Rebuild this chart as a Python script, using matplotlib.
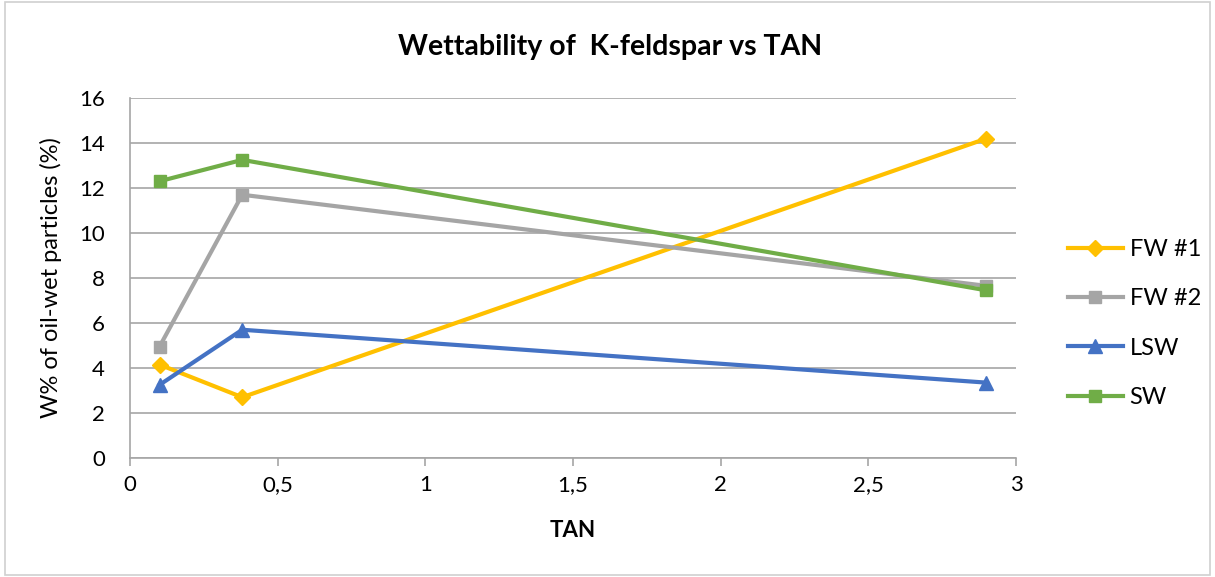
import matplotlib.pyplot as plt
from matplotlib.patches import Rectangle

plt.rcParams['font.family'] = ['Lato', 'DejaVu Sans']

tan = [0.1, 0.38, 2.9]
fw1 = [4.15, 2.7, 14.2]
fw2 = [4.95, 11.7, 7.65]
lsw = [3.25, 5.7, 3.35]
sw = [12.3, 13.25, 7.45]

x_ticks = [0, 0.5, 1, 1.5, 2, 2.5, 3]
x_labels = ['0', '0,5', '1', '1,5', '2', '2,5', '3']
y_ticks = [0, 2, 4, 6, 8, 10, 12, 14, 16]

fig = plt.figure(figsize=(12.15, 5.77), dpi=100)
ax = fig.add_axes([130 / 1215, 1 - 458 / 577, 886 / 1215, 360 / 577])

series = [
    ('FW #1', fw1, '#FFC000', 'D', 8),
    ('FW #2', fw2, '#A5A5A5', 's', 9),
    ('LSW', lsw, '#4472C4', '^', 10),
    ('SW', sw, '#70AD47', 's', 9),
]
for name, vals, color, marker, ms in series:
    ax.plot(tan, vals, color=color, lw=3, marker=marker, markersize=ms,
            label=name, clip_on=False, zorder=3)

ax.set_xlim(0, 3)
ax.set_ylim(0, 16)
ax.set_xticks(x_ticks)
ax.set_xticklabels(x_labels)
ax.set_yticks(y_ticks)
ax.grid(axis='y', color='#A6A6A6', lw=1.2)
ax.set_axisbelow(True)
for s in ['top', 'right']:
    ax.spines[s].set_visible(False)
ax.spines['left'].set_color('#A6A6A6')
ax.spines['bottom'].set_color('#A6A6A6')
ax.spines['left'].set_linewidth(1.2)
ax.spines['bottom'].set_linewidth(1.2)
ax.tick_params(axis='x', colors='#A6A6A6', length=6, width=1.2, labelsize=16,
               labelcolor='black', pad=6)
ax.tick_params(axis='y', length=0, labelsize=16, labelcolor='black', pad=18)

ax.set_xlabel('TAN', fontsize=16, fontweight='bold', labelpad=18)
ax.set_ylabel('W% of oil-wet particles (%)', fontsize=17, labelpad=12)
fig.text(610 / 1215, 1 - 47 / 577, 'Wettability of  K-feldspar vs TAN',
         fontsize=20.5, fontweight='bold', ha='center', va='center')

ax.legend(loc='center left', bbox_to_anchor=(1.035, 0.374), frameon=False,
          fontsize=17, handlelength=2.3, handletextpad=0.3, labelspacing=1.2)

fig.patches.append(Rectangle((0.004, 0.004), 0.992, 0.992, transform=fig.transFigure,
                             fill=False, edgecolor='#D0D0D0', lw=1.2))

fig.savefig('out.png', dpi=100)
